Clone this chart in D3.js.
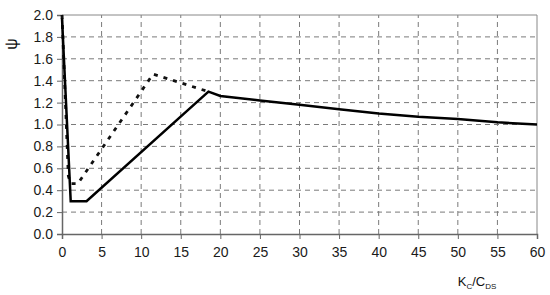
<!DOCTYPE html>
<html><head><meta charset="utf-8">
<script src="https://cdn.jsdelivr.net/npm/d3@7"></script>
<style>body{margin:0;background:#fff}svg{display:block}text{font-family:"Liberation Sans",Arial,sans-serif}</style>
</head><body>
<script>
const xTicks = [0,5,10,15,20,25,30,35,40,45,50,55,60];
const yTicks = [0.0,0.2,0.4,0.6,0.8,1.0,1.2,1.4,1.6,1.8,2.0];
const solidX = [0, 1.1, 3.1, 18.5, 20, 25, 30, 35, 40, 45, 50, 55, 60];
const solidY = [1.97, 0.30, 0.30, 1.30, 1.26, 1.22, 1.18, 1.14, 1.10, 1.07, 1.05, 1.02, 1.00];
const dashX = [0, 0.8, 1.1, 2.0, 11.5, 18.5];
const dashY = [2.0, 0.53, 0.46, 0.46, 1.46, 1.30];

const W = 550, H = 295;
const m = {l:62, r:13, t:15, b:61};
const svg = d3.select("body").append("svg").attr("width", W).attr("height", H);
const x = d3.scaleLinear().domain([0,60]).range([m.l, W-m.r]);
const y = d3.scaleLinear().domain([0,2]).range([H-m.b, m.t]);

// grid
const g = svg.append("g");
g.selectAll(".vx").data(xTicks.slice(1,-1)).enter().append("line")
  .attr("x1", d=>x(d)).attr("x2", d=>x(d)).attr("y1", y(0)).attr("y2", y(2))
  .attr("stroke", "#7a7a7a").attr("stroke-width", 1).attr("stroke-dasharray", "5,4");
g.selectAll(".hy").data(yTicks.slice(1,-1)).enter().append("line")
  .attr("x1", x(0)).attr("x2", x(60)).attr("y1", d=>y(d)).attr("y2", d=>y(d))
  .attr("stroke", "#7a7a7a").attr("stroke-width", 1).attr("stroke-dasharray", "5,4");
// border top/right
svg.append("line").attr("x1", x(0)).attr("x2", x(60)).attr("y1", y(2)).attr("y2", y(2)).attr("stroke", "#888");
svg.append("line").attr("x1", x(60)).attr("x2", x(60)).attr("y1", y(2)).attr("y2", y(0)).attr("stroke", "#888");

// axes
const xAxis = d3.axisBottom(x).tickValues(xTicks).tickSize(5).tickPadding(8).tickFormat(d3.format("d"));
const yAxis = d3.axisLeft(y).tickValues(yTicks).tickSize(5).tickPadding(4).tickFormat(d3.format(".1f"));
const gx = svg.append("g").attr("transform", `translate(0,${y(0)})`).call(xAxis);
const gy = svg.append("g").attr("transform", `translate(${x(0)},0)`).call(yAxis);
[gx, gy].forEach(a => {
  a.select(".domain").attr("stroke", "#666").attr("stroke-width", 1.5);
  a.selectAll(".tick line").attr("stroke", "#666");
  a.selectAll("text").attr("font-size", 14).attr("fill", "#1a1a1a");
});

// lines
const line = d3.line().x(d=>x(d[0])).y(d=>y(d[1]));
svg.append("path").datum(dashX.map((v,i)=>[v,dashY[i]])).attr("d", line)
  .attr("fill","none").attr("stroke","#111").attr("stroke-width",2.8).attr("stroke-dasharray","4,6");
svg.append("path").datum(solidX.map((v,i)=>[v,solidY[i]])).attr("d", line)
  .attr("fill","none").attr("stroke","#000").attr("stroke-width",2.5).attr("stroke-linejoin","miter");

// labels
svg.append("text").attr("transform", "translate(17,44) rotate(-90)").attr("text-anchor","middle")
  .attr("font-size", 16).attr("fill","#111").text("ψ");
const xl = svg.append("text").attr("x", 477).attr("y", 286).attr("text-anchor","middle").attr("font-size", 13).attr("fill","#111");
xl.append("tspan").text("K");
xl.append("tspan").attr("font-size", 8).attr("dy", 3).text("C");
xl.append("tspan").attr("dy", -3).text("/C");
xl.append("tspan").attr("font-size", 8).attr("dy", 3).text("DS");
</script>
</body></html>
